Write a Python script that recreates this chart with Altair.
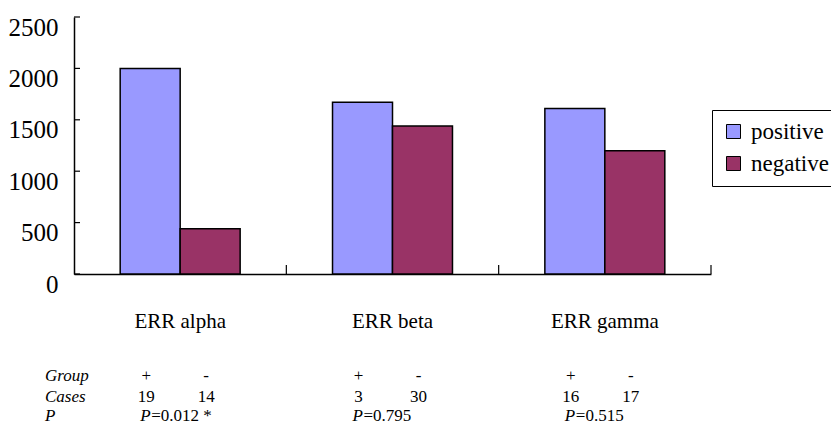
import altair as alt
import pandas as pd

categories = ["ERR alpha", "ERR beta", "ERR gamma"]
series = ["positive", "negative"]
positive_values = [2000, 1670, 1610]
negative_values = [440, 1440, 1200]
y_ticks = [0, 500, 1000, 1500, 2000, 2500]

group_signs = ["+", "-"]
cases_positive = [19, 3, 16]
cases_negative = [14, 30, 17]
p_values = ["=0.012 *", "=0.795", "=0.515"]

colors = ["#9999FF", "#993366"]
FONT = "Liberation Serif"

W, H = 637, 257

bars = pd.DataFrame(
    [{"cat": c, "series": "positive", "value": v} for c, v in zip(categories, positive_values)]
    + [{"cat": c, "series": "negative", "value": v} for c, v in zip(categories, negative_values)]
)

x_scale = alt.Scale(domain=categories, paddingInner=0, paddingOuter=0)
off_scale = alt.Scale(domain=series, paddingInner=0, paddingOuter=0.77)
y_scale = alt.Scale(domain=[0, 2500], nice=False)

bar_layer = alt.Chart(bars).mark_bar(stroke="black", strokeWidth=1.5).encode(
    x=alt.X("cat:N", scale=x_scale, sort=categories,
            axis=alt.Axis(title=None, ticks=False, labelAngle=0, labelFont=FONT,
                          labelFontSize=21, labelColor="black", labelPadding=36,
                          labelBaseline="top", domainColor="black", domainWidth=1.5)),
    xOffset=alt.XOffset("series:N", scale=off_scale, sort=series),
    y=alt.Y("value:Q", scale=y_scale,
            axis=alt.Axis(title=None, values=y_ticks, ticks=False, grid=False, format="d",
                          labelFont=FONT, labelFontSize=25, labelColor="black",
                          labelPadding=16, labelBaseline="top", labelOffset=-2,
                          domainColor="black", domainWidth=1.5)),
    color=alt.Color("series:N", sort=series,
                    scale=alt.Scale(domain=series, range=colors),
                    legend=alt.Legend(title=None, orient="none", legendX=638, legendY=93,
                                      strokeColor="black", padding=10, symbolType="square",
                                      symbolSize=196, symbolStrokeColor="black",
                                      symbolStrokeWidth=1, labelFont=FONT, labelFontSize=23,
                                      labelColor="black", labelOffset=6, rowPadding=8)),
)

# inward y ticks
ytick_df = pd.DataFrame({"v": y_ticks})
ytick_layer = alt.Chart(ytick_df).mark_rule(color="black", strokeWidth=1.2).encode(
    y=alt.Y("v:Q", scale=y_scale),
    x=alt.value(0), x2=alt.value(6),
)

# inward x ticks at band ends
xtick_df = pd.DataFrame({"cat": categories})
xtick_layer = alt.Chart(xtick_df).mark_rule(color="black", strokeWidth=1.2).encode(
    x=alt.X("cat:N", scale=x_scale, sort=categories, bandPosition=1),
    y=alt.value(H - 9), y2=alt.value(H),
)

# table rows
ROW_Y = [364, 385, 404]
FS = 17
tbl = pd.DataFrame(
    [{"cat": c, "series": "positive", "g": "+", "n": str(a)} for c, a in zip(categories, cases_positive)]
    + [{"cat": c, "series": "negative", "g": "-", "n": str(b)} for c, b in zip(categories, cases_negative)]
)
base_tbl = alt.Chart(tbl).encode(
    x=alt.X("cat:N", scale=x_scale, sort=categories),
    xOffset=alt.XOffset("series:N", scale=off_scale, sort=series),
)
group_layer = base_tbl.mark_text(font=FONT, fontSize=FS, color="black", baseline="alphabetic",
                                 dx=-4).encode(text="g:N", y=alt.value(ROW_Y[0]))
cases_layer = base_tbl.mark_text(font=FONT, fontSize=FS, color="black", baseline="alphabetic",
                                 dx=-4).encode(text="n:N", y=alt.value(ROW_Y[1]))

pdf = pd.DataFrame({"cat": categories, "p": p_values, "P": ["P"] * 3})
p_it = alt.Chart(pdf).mark_text(font=FONT, fontSize=FS, fontStyle="italic", color="black",
                                 align="left", baseline="alphabetic", dx=-40).encode(
    x=alt.X("cat:N", scale=x_scale, sort=categories), text="P:N", y=alt.value(ROW_Y[2]))
p_rest = alt.Chart(pdf).mark_text(font=FONT, fontSize=FS, color="black",
                                   align="left", baseline="alphabetic", dx=-29).encode(
    x=alt.X("cat:N", scale=x_scale, sort=categories), text="p:N", y=alt.value(ROW_Y[2]))

row_labels = pd.DataFrame({"lab": ["Group", "Cases", "P"], "yy": ROW_Y})
row_layer = alt.Chart(row_labels).mark_text(font=FONT, fontSize=FS, fontStyle="italic",
                                            color="black", align="left",
                                            baseline="alphabetic").encode(
    text="lab:N", x=alt.value(-29), y=alt.Y("yy:Q", scale=None))

chart = alt.layer(bar_layer, ytick_layer, xtick_layer, group_layer, cases_layer,
                  p_it, p_rest, row_layer).properties(
    width=W, height=H,
    autosize=alt.AutoSizeParams(type="none"),
    padding={"left": 66, "top": 9, "right": 823 - 66 - W, "bottom": 418 - 9 - H},
).configure(background="white", view=alt.ViewConfig(stroke=None))

chart.save("out.html", embed_options={"renderer": "svg", "actions": False})
